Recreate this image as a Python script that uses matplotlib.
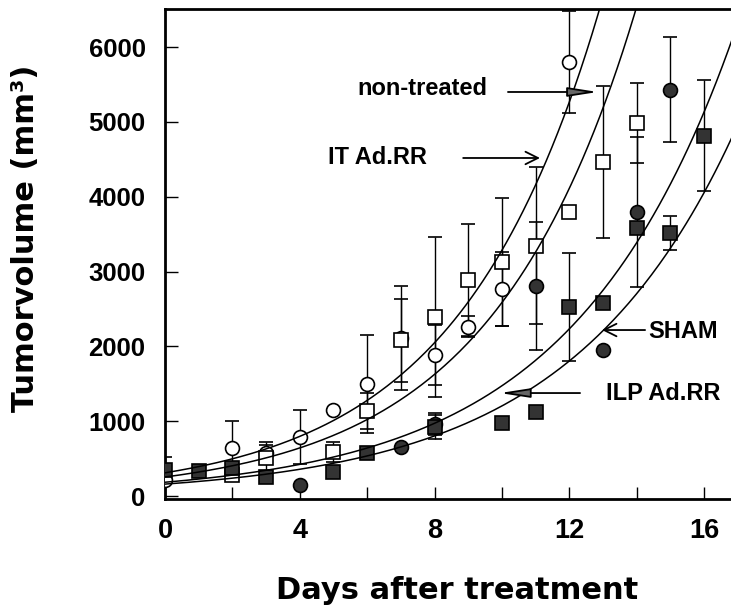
import numpy as np
import matplotlib
matplotlib.use('Agg')
from matplotlib import pyplot as plt

# open circles
oc_day = [0, 2, 3, 4, 5, 6, 7, 8, 9, 10, 12]
oc_vol = [214, 642, 575, 789, 1150, 1497, 2112, 1885, 2259, 2767, 5802]
oc_err = [0, 360, 150, 355, 0, 655, 690, 400, 140, 500, 680]

# open squares
os_day = [2, 3, 5, 6, 7, 8, 9, 10, 11, 12, 13, 14]
os_vol = [281, 508, 588, 1136, 2080, 2393, 2888, 3128, 3342, 3797, 4465, 4987]
os_err = [0, 170, 134, 241, 550, 1070, 750, 860, 1050, 0, 1015, 534]

# filled circles
fc_day = [4, 7, 8, 11, 13, 14, 15]
fc_vol = [147, 655, 960, 2807, 1952, 3797, 5428]
fc_err = [0, 0, 150, 850, 0, 1000, 700]

# filled squares
fs_day = [0, 1, 2, 3, 5, 6, 8, 10, 11, 12, 13, 14, 15, 16]
fs_vol = [348, 334, 374, 254, 321, 575, 920, 976, 1123, 2527, 2580, 3583, 3516, 4813]
fs_err = [173, 0, 0, 0, 0, 0, 160, 0, 0, 720, 0, 0, 227, 740]

# exponential growth fits (V0 * exp(rate * t))
fit_v0 = [310, 254, 184, 159]
fit_rate = [0.236, 0.232, 0.208, 0.2024]

# labels: (text, text pos, arrow tail, arrow tip, head style)
notes = [
    ('non-treated', (7.63, 5439), (10.18, 5399), (12.85, 5399), 'filled'),
    ('IT Ad.RR', (6.32, 4530), (8.85, 4517), (11.13, 4517), 'open'),
    ('SHAM', (15.38, 2205), (14.25, 2218), (12.97, 2218), 'open'),
    ('ILP Ad.RR', (14.78, 1376), (12.32, 1376), (9.94, 1376), 'filled'),
]

plt.rcParams['font.family'] = ['Liberation Sans', 'DejaVu Sans']
plt.rcParams['font.weight'] = 'bold'

fig = plt.figure(figsize=(7.31, 6.09), dpi=100)
ax = fig.add_axes([165/731, 1 - 499/609, 1 - 165/731, 490/609])

eb = dict(fmt='none', ecolor='black', elinewidth=1.0, capsize=4.7, capthick=1.2, zorder=2)
ax.errorbar(oc_day, oc_vol, yerr=oc_err, **eb)
ax.errorbar(os_day, os_vol, yerr=os_err, **eb)
ax.errorbar(fc_day, fc_vol, yerr=fc_err, **eb)
ax.errorbar(fs_day, fs_vol, yerr=fs_err, **eb)

mk = dict(linestyle='none', markersize=10, markeredgewidth=1.2, markeredgecolor='black', zorder=3)
ax.plot(oc_day, oc_vol, marker='o', markerfacecolor='white', **mk)
ax.plot(os_day, os_vol, marker='s', markerfacecolor='white', **mk)
ax.plot(fc_day, fc_vol, marker='o', markerfacecolor='#333333', **mk)
ax.plot(fs_day, fs_vol, marker='s', markerfacecolor='#333333', **mk)

t = np.linspace(0, 17, 300)
for v0, r in zip(fit_v0, fit_rate):
    ax.plot(t, v0 * np.exp(r * t), color='black', lw=1.1, zorder=4)

for txt, tpos, tail, tip, head in notes:
    ax.text(tpos[0], tpos[1], txt, ha='center', va='center', fontsize=17, fontweight='bold')
    if head == 'filled':
        style = '-|>,head_length=1.8,head_width=0.28'
        fc = '#666666'
    else:
        style = '->,head_length=0.9,head_width=0.45'
        fc = 'black'
    ax.annotate('', xy=tip, xytext=tail,
                arrowprops=dict(arrowstyle=style, edgecolor='black', facecolor=fc, lw=1.3,
                                shrinkA=0, shrinkB=0), zorder=5)

ax.set_xlim(0, 16.8)
ax.set_ylim(-40, 6508)
ax.set_xticks([0, 4, 8, 12, 16])
ax.set_xticks([2, 6, 10, 14], minor=True)
ax.set_yticks([0, 1000, 2000, 3000, 4000, 5000, 6000])
ax.tick_params(axis='both', which='both', direction='in', length=9, width=1.0)
ax.tick_params(axis='x', which='major', labelsize=19.5, pad=14)
ax.tick_params(axis='y', which='major', labelsize=18.5, pad=14)
for lab in ax.get_xticklabels() + ax.get_yticklabels():
    lab.set_fontweight('bold')

ax.spines['right'].set_visible(False)
for s in ['left', 'bottom', 'top']:
    ax.spines[s].set_linewidth(2.0)

fig.text(457/731, 1 - 599/609, 'Days after treatment', ha='center', va='baseline',
         fontsize=22, fontweight='bold', family='DejaVu Sans')
fig.text(26/731, 1 - 238/609, 'Tumorvolume (mm³)', rotation=90, ha='center', va='center',
         fontsize=22, fontweight='bold', family='DejaVu Sans')

fig.savefig('out.png', dpi=100)
